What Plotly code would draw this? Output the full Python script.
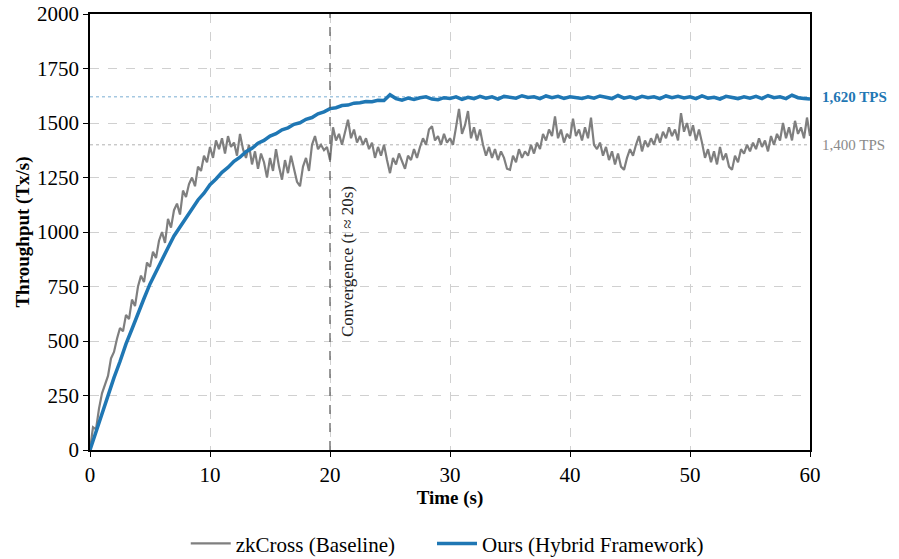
import plotly.graph_objects as go

# ---------------- data ----------------
# Baseline (zkCross), sampled every 0.25 s
base_t = [i * 0.25 for i in range(241)]
base_v = [
    0, 105, 95, 190, 260, 300, 340, 420, 450, 510, 560, 545, 620, 600, 690, 660,
    750, 800, 770, 860, 840, 910, 880, 960, 1000, 950, 1060, 1020, 1100, 1130, 1080, 1190,
    1160, 1220, 1250, 1210, 1300, 1280, 1350, 1320, 1390,
    1340, 1420, 1380, 1430, 1360, 1440, 1390, 1410, 1350, 1450, 1380, 1340, 1400, 1310, 1370, 1290,
    1360, 1320, 1250, 1340, 1280, 1380, 1300, 1240, 1330, 1270, 1350, 1290, 1230, 1210, 1300, 1340,
    1280, 1400, 1440, 1380, 1400, 1375, 1390, 1330,
    1480, 1420, 1450, 1400, 1460, 1515, 1430, 1470, 1410, 1440, 1400, 1430, 1380, 1410, 1340, 1390,
    1350, 1400, 1330, 1270, 1340, 1310, 1360, 1320, 1290, 1350, 1330, 1380, 1340, 1390, 1430, 1400,
    1470, 1485, 1420, 1440, 1400, 1450, 1410, 1430,
    1400, 1480, 1565, 1450, 1490, 1555, 1430, 1480, 1420, 1470, 1400, 1350, 1390, 1340, 1380, 1330,
    1370, 1340, 1290, 1285, 1350, 1320, 1380, 1340, 1370, 1350, 1400, 1360, 1410, 1380, 1450, 1420,
    1470, 1440, 1530, 1430, 1470, 1410, 1450, 1430,
    1520, 1440, 1470, 1420, 1480, 1430, 1525, 1400, 1380, 1410, 1350, 1390, 1330, 1370, 1310, 1360,
    1300, 1285, 1340, 1380, 1350, 1400, 1440, 1370, 1420, 1390, 1430, 1400, 1450, 1410, 1460, 1430,
    1480, 1440, 1470, 1420, 1545, 1460, 1500, 1440,
    1490, 1420, 1470, 1410, 1340, 1380, 1320, 1370, 1310, 1390, 1330, 1360, 1300, 1285, 1350, 1320,
    1380, 1360, 1400, 1370, 1410, 1380, 1430, 1390, 1420, 1370, 1440, 1400, 1450, 1420, 1500, 1430,
    1480, 1420, 1510, 1450, 1480, 1430, 1525, 1440,
]

# Ours (Hybrid Framework), sampled every 0.5 s
ours_t = [i * 0.5 for i in range(121)]
ours_v = [
    0, 85, 172, 248, 332, 406, 487, 555, 630, 695, 762, 818, 880, 928, 982, 1023,
    1069, 1106, 1147, 1178, 1217, 1243, 1274, 1296, 1324, 1343, 1368, 1384, 1407, 1420, 1440, 1451,
    1469, 1478, 1494, 1501, 1517, 1525, 1542, 1551, 1566,
    1570, 1580, 1582, 1591, 1593, 1599, 1598, 1604, 1603, 1630, 1612, 1605, 1614, 1608, 1616, 1620,
    1610, 1607, 1616, 1612, 1620, 1608, 1618, 1612, 1622, 1614, 1620, 1610, 1622, 1618, 1614, 1625,
    1617, 1620, 1612, 1624, 1616, 1622, 1613, 1620, 1618, 1612, 1620, 1614, 1624, 1618, 1612, 1626,
    1614, 1620, 1612, 1622, 1616, 1620, 1612, 1624, 1616, 1622, 1615, 1620, 1612, 1624, 1614, 1618,
    1610, 1622, 1616, 1612, 1620, 1614, 1622, 1612, 1626, 1616, 1620, 1612, 1628, 1616, 1612, 1610,
]

x_ticks = [0, 10, 20, 30, 40, 50, 60]
y_ticks = [0, 250, 500, 750, 1000, 1250, 1500, 1750, 2000]
ours_level = 1620
base_level = 1400
conv_t = 20

FONT = "Liberation Serif"
BLUE = "#1f77b4"
GRAY = "#7f7f7f"

fig = go.Figure()
fig.add_trace(go.Scatter(x=base_t, y=base_v, mode="lines", name="zkCross (Baseline)",
                         line=dict(color=GRAY, width=2.2), legend="legend"))
fig.add_trace(go.Scatter(x=ours_t, y=ours_v, mode="lines", name="Ours (Hybrid Framework)",
                         line=dict(color=BLUE, width=3.5), legend="legend2"))

# reference lines
fig.add_shape(type="line", xref="x", yref="y", x0=0, x1=60, y0=ours_level, y1=ours_level,
              line=dict(color="rgba(31,119,180,0.6)", width=1, dash="dot"), layer="below")
fig.add_shape(type="line", xref="x", yref="y", x0=0, x1=60, y0=base_level, y1=base_level,
              line=dict(color="rgba(127,127,127,0.6)", width=1, dash="dot"), layer="below")
fig.add_shape(type="line", xref="x", yref="y", x0=conv_t, x1=conv_t, y0=0, y1=2000,
              line=dict(color="#555555", width=1.2, dash="dash"))

fig.add_annotation(x=conv_t, y=862, xref="x", yref="y", text="Convergence (t ≈ 20s)",
                   textangle=-90, showarrow=False, xanchor="center", yanchor="middle", xshift=17,
                   font=dict(family=FONT, size=17, color="#222"))
fig.add_annotation(x=60, y=ours_level, xref="x", yref="y", text="<b>1,620 TPS</b>",
                   showarrow=False, xanchor="left", xshift=10,
                   font=dict(family=FONT, size=15, color=BLUE))
fig.add_annotation(x=60, y=base_level, xref="x", yref="y", text="1,400 TPS",
                   showarrow=False, xanchor="left", xshift=10,
                   font=dict(family=FONT, size=15, color="#8a8a8a"))

axis_common = dict(showline=True, linecolor="black", linewidth=1.5, mirror=True,
                   ticks="outside", ticklen=5, tickwidth=1.2, tickcolor="black",
                   showgrid=True, gridcolor="#d0d0d0", griddash="dash", gridwidth=1,
                   zeroline=False, automargin=False, ticklabeloverflow="allow",
                   tickfont=dict(family=FONT, size=21, color="black"))

fig.update_xaxes(range=[0, 60], tickvals=x_ticks,
                 title=dict(text="<b>Time (s)</b>", font=dict(family=FONT, size=19, color="black"), standoff=0),
                 **axis_common)
fig.update_yaxes(range=[0, 2000], tickvals=y_ticks,
                 title=dict(text="<b>Throughput (Tx/s)</b>", font=dict(family=FONT, size=19, color="black"), standoff=2),
                 **axis_common)

legend_common = dict(orientation="h", y=-0.215, yanchor="middle", xanchor="left",
                     font=dict(family=FONT, size=21, color="black"), itemwidth=40,
                     bgcolor="rgba(0,0,0,0)")

fig.update_layout(
    width=899, height=559,
    margin=dict(l=90, r=89, t=14, b=109, autoexpand=False),
    plot_bgcolor="white", paper_bgcolor="white",
    font=dict(family=FONT, size=16, color="black"),
    legend=dict(x=0.133, **legend_common),
    legend2=dict(x=0.475, **legend_common),
    showlegend=True,
)

# remove the default 8 px page margin so the figure fills the window exactly
fig.write_html("out.html", config={"displayModeBar": False},
               post_script="document.body.style.margin='0px';")
